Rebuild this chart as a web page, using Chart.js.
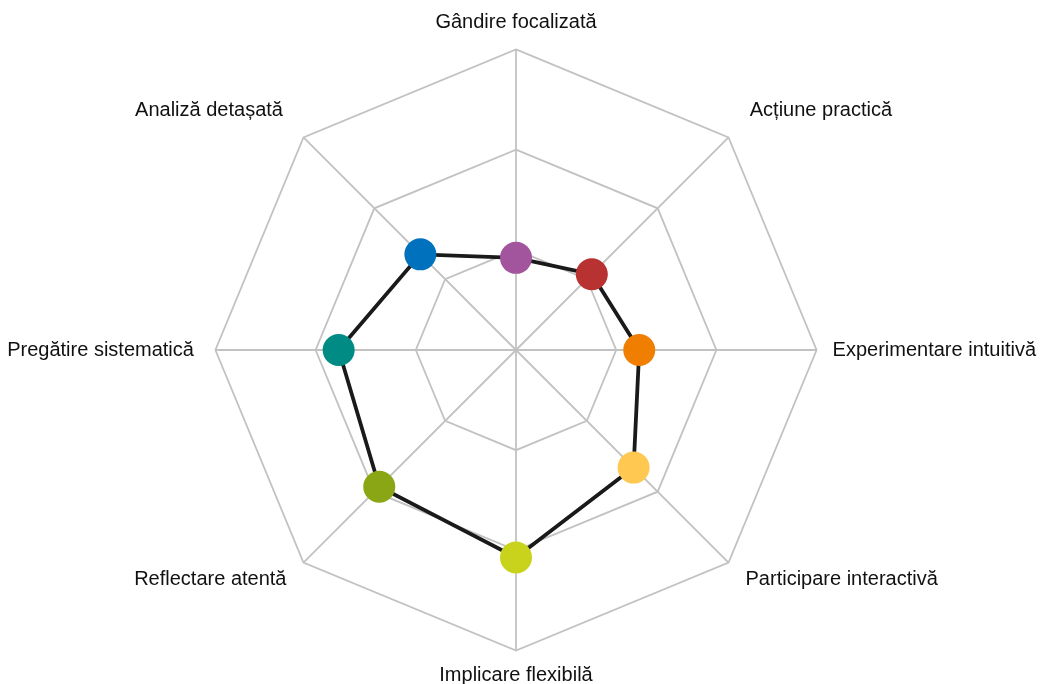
<!DOCTYPE html>
<html>
<head>
<meta charset="utf-8">
<script src="https://cdn.jsdelivr.net/npm/chart.js@4/dist/chart.umd.min.js"></script>
<style>
  html, body { margin: 0; padding: 0; background: #ffffff; }
  #wrap { width: 1042px; height: 684px; }
</style>
</head>
<body>
<div id="wrap"><canvas id="radar" width="1042" height="684"></canvas></div>
<script>
// Axes of the profile, clockwise from the top
const categories = [
  'Gândire focalizată',
  'Acțiune practică',
  'Experimentare intuitivă',
  'Participare interactivă',
  'Implicare flexibilă',
  'Reflectare atentă',
  'Pregătire sistematică',
  'Analiză detașată'
];

// Score on each axis (scale 0–3)
const scores = [0.92, 1.07, 1.23, 1.66, 2.07, 1.93, 1.77, 1.35];

// Marker colour for each axis
const markerColors = [
  '#a2559d', '#b83232', '#f07e00', '#fec851',
  '#c9d31c', '#8ba614', '#008b84', '#0071bc'
];

// Radial scale rings
const scaleMin = 0;
const scaleMax = 3;
const scaleStep = 1;

// Distance of each axis label from the outer ring
const labelGap = [27, 30, 16, 24, 25, 24, 21.5, 29];
// Line height of each axis label (keeps the labels close to the ring)
const labelLineHeight = [0, 0.6, 1.2, 0, 0, 0, 1.2, 0.6];

new Chart(document.getElementById('radar'), {
  type: 'radar',
  data: {
    labels: categories,
    datasets: [{
      data: scores,
      borderColor: '#1a1a1a',
      borderWidth: 3.8,
      fill: false,
      tension: 0,
      pointRadius: 16,
      pointHoverRadius: 16,
      pointBorderWidth: 0,
      pointBackgroundColor: markerColors,
      pointBorderColor: markerColors
    }]
  },
  options: {
    responsive: false,
    animation: false,
    events: [],
    layout: { padding: { left: 2, right: 0, top: 14, bottom: 0 } },
    plugins: {
      legend: { display: false },
      tooltip: { enabled: false }
    },
    scales: {
      r: {
        min: scaleMin,
        max: scaleMax,
        ticks: { stepSize: scaleStep, display: false },
        grid: { color: '#c2c2c2', lineWidth: 1.8 },
        angleLines: { color: '#c2c2c2', lineWidth: 1.8 },
        pointLabels: {
          color: '#111111',
          padding: (ctx) => labelGap[ctx.index],
          font: (ctx) => ({
            family: "'Liberation Sans', Arial, sans-serif",
            size: 20,
            lineHeight: labelLineHeight[ctx.index]
          })
        }
      }
    }
  }
});
</script>
</body>
</html>
